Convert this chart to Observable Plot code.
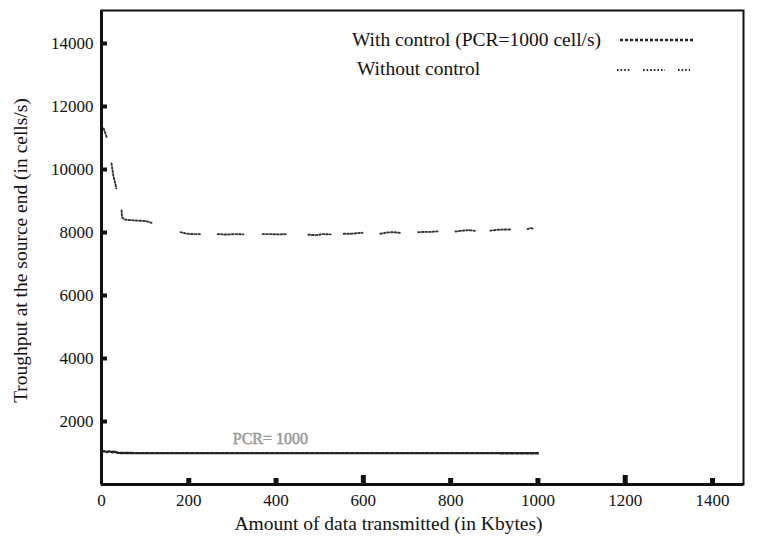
<!DOCTYPE html>
<html>
<head>
<meta charset="utf-8">
<script src="https://cdn.jsdelivr.net/npm/d3@7"></script>
<script src="https://cdn.jsdelivr.net/npm/@observablehq/plot@0.6"></script>
<style>
  body { margin: 0; background: #fff; }
  #wrap { position: relative; width: 758px; height: 545px; font-family: "Liberation Serif", "DejaVu Serif", serif; }
  #wrap svg text { font-family: "Liberation Serif", "DejaVu Serif", serif !important; }
  .lg { position: absolute; font-size: 19.5px; color: #111; white-space: nowrap; line-height: 1; }
</style>
</head>
<body>
<div id="wrap"></div>
<script>
// ---- data ----
const xTicks = [0, 200, 400, 600, 800, 1000, 1200, 1400];
const yTicks = [2000, 4000, 6000, 8000, 10000, 12000, 14000];

// With control (PCR=1000 cell/s)
const ctrlX = [0, 6, 12, 18, 24, 30, 36, 42, 100, 200, 300, 400, 500, 600, 700, 800, 900, 1000];
const ctrlY = [1040, 1060, 1030, 1055, 1025, 1045, 1010, 1000, 995, 995, 995, 995, 995, 995, 995, 995, 995, 990];

// Without control (segments)
const noSeg = [
  0, 0, 0,
  1, 1, 1, 1,
  2, 2, 2, 2, 2, 2,
  3, 3, 3, 3,
  4, 4, 4, 4,
  5, 5, 5, 5,
  6, 6, 6, 6,
  7, 7, 7, 7,
  8, 8, 8, 8,
  9, 9, 9, 9,
  10, 10, 10, 10,
  11, 11, 11, 11,
  12, 12, 12
];
const noX = [
  5, 9, 13,
  23, 27, 31, 34,
  46, 47, 53, 78, 101, 119,
  181, 196, 211, 227,
  266, 286, 305, 325,
  369, 388, 407, 426,
  474, 491, 508, 525,
  555, 569, 584, 598,
  639, 654, 670, 685,
  726, 741, 755, 770,
  811, 826, 842, 857,
  891, 906, 922, 937,
  976, 983, 990
];
const noY = [
  11300, 11140, 10980,
  10190, 9810, 9590, 9400,
  8700, 8480, 8410, 8380, 8365, 8290,
  8010, 7960, 7950, 7950,
  7950, 7935, 7950, 7940,
  7950, 7950, 7940, 7950,
  7930, 7915, 7950, 7940,
  7960, 7960, 7975, 7990,
  7960, 8000, 8010, 7985,
  8010, 8020, 8020, 8035,
  8030, 8060, 8075, 8050,
  8060, 8085, 8095, 8095,
  8110, 8140, 8120
];

const annotText = ["PCR= 1000"];
const annotX = [387];
const annotY = [1460];

const legendLabels = ["With control (PCR=1000 cell/s)", "Without control"];
const xTitle = "Amount of data transmitted (in Kbytes)";
const yTitle = "Troughput at the source end (in cells/s)";

// ---- build tables ----
const ctrl = ctrlX.map((x, i) => ({x, y: ctrlY[i]}));
const noCtrl = noX.map((x, i) => ({x, y: noY[i], s: noSeg[i]}));
const annot = annotText.map((t, i) => ({t, x: annotX[i], y: annotY[i]}));

const serif = '"Liberation Serif", "DejaVu Serif", serif';

const chart = Plot.plot({
  width: 758,
  height: 545,
  marginLeft: 101,
  marginRight: 15,
  marginTop: 10,
  marginBottom: 61,
  style: { fontFamily: serif, fontSize: "17px", color: "#111", background: "#fff" },
  x: { domain: [0, 1471] },
  y: { domain: [0, 15048] },
  marks: [
    // tick labels
    Plot.axisX(xTicks, { tickSize: 0, tickPadding: 9, fontSize: 17, tickFormat: "d", label: null }),
    Plot.axisY(yTicks, { tickSize: 0, tickPadding: 8, fontSize: 17, tickFormat: "d", label: null }),
    // inward tick marks
    Plot.axisX(xTicks.filter(d => d > 0 && d % 600 !== 0), { tickSize: -6, strokeWidth: 5, tickFormat: () => "", label: null }),
    Plot.axisX(xTicks.filter(d => d > 0 && d % 600 === 0), { tickSize: -9, strokeWidth: 5, tickFormat: () => "", label: null }),
    Plot.axisY(yTicks, { tickSize: -6, strokeWidth: 4, tickFormat: () => "", label: null }),
    // frame
    Plot.frame({ stroke: "#111", strokeWidth: 2 }),
    Plot.ruleX([0], { stroke: "#111", strokeWidth: 3 }),
    Plot.ruleY([0], { stroke: "#111", strokeWidth: 3 }),
    // data
    Plot.line(ctrl, { x: "x", y: "y", stroke: "#222", strokeWidth: 2.4, strokeDasharray: "3 2", curve: "linear" }),
    Plot.line(noCtrl, { x: "x", y: "y", z: "s", stroke: "#333", strokeWidth: 1.9, strokeDasharray: "1.6 2", curve: "linear" }),
    // annotation
    Plot.text(annot, { x: "x", y: "y", text: "t", fill: "#999", stroke: "#777", strokeWidth: 0.4, fontSize: 16, fontFamily: serif }),
    // titles
    Plot.text([xTitle], { frameAnchor: "bottom", textAnchor: "middle", dx: -34, dy: 45, fontSize: 19.5, fill: "#111", fontFamily: serif }),
    Plot.text([yTitle], { frameAnchor: "left", textAnchor: "middle", rotate: -90, dx: -81, dy: 3, fontSize: 19.5, fill: "#111", fontFamily: serif })
  ]
});

const wrap = document.getElementById("wrap");
wrap.appendChild(chart);

// legend overlay
const lg1 = document.createElement("div");
lg1.className = "lg"; lg1.style.left = "352px"; lg1.style.top = "30px"; lg1.textContent = legendLabels[0];
const lg2 = document.createElement("div");
lg2.className = "lg"; lg2.style.left = "357px"; lg2.style.top = "59px"; lg2.textContent = legendLabels[1];
wrap.appendChild(lg1); wrap.appendChild(lg2);

const ns = "http://www.w3.org/2000/svg";
const sv = document.createElementNS(ns, "svg");
sv.setAttribute("width", 758); sv.setAttribute("height", 100);
sv.style.position = "absolute"; sv.style.left = "0"; sv.style.top = "0";
function seg(x1, x2, y, w, dash) {
  const l = document.createElementNS(ns, "line");
  l.setAttribute("x1", x1); l.setAttribute("x2", x2); l.setAttribute("y1", y); l.setAttribute("y2", y);
  l.setAttribute("stroke", "#222"); l.setAttribute("stroke-width", w); l.setAttribute("stroke-dasharray", dash);
  sv.appendChild(l);
}
seg(620, 695, 40, 2.4, "3 2");
seg(617, 630, 70, 1.9, "1.6 2");
seg(643, 665, 70, 1.9, "1.6 2");
seg(678, 690, 70, 1.9, "1.6 2");
wrap.appendChild(sv);
</script>
</body>
</html>
